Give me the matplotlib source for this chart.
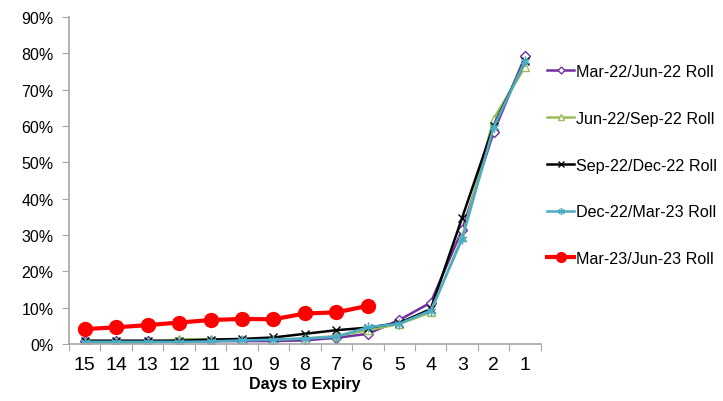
import matplotlib.pyplot as plt
import numpy as np
from matplotlib.ticker import FuncFormatter

# ------------------------------------------------------------
# Data (percent of open interest rolled, by days to expiry)
# ------------------------------------------------------------
days = [15, 14, 13, 12, 11, 10, 9, 8, 7, 6, 5, 4, 3, 2, 1]

mar22_jun22 = [0.8, 0.8, 0.8, 0.8, 0.8, 0.8, 0.8, 1.0, 1.7, 2.8, 6.6, 11.4, 31.5, 58.3, 79.2]
jun22_sep22 = [0.3, 0.3, 0.3, 1.3, 1.3, 1.2, 1.2, 1.5, 2.2, 3.8, 5.5, 8.7, 29.4, 62.0, 76.3]
sep22_dec22 = [0.9, 0.9, 0.9, 0.9, 1.2, 1.4, 1.8, 2.8, 3.8, 4.5, 5.8, 9.6, 34.8, 60.1, 78.0]
dec22_mar23 = [0.6, 0.6, 0.6, 0.6, 0.7, 1.0, 1.2, 1.5, 2.0, 4.6, 5.6, 9.2, 28.9, 59.7, 78.0]
mar23_jun23 = [4.1, 4.6, 5.2, 5.9, 6.6, 6.9, 6.8, 8.4, 8.7, 10.5]

labels = [
    "Mar-22/Jun-22 Roll",
    "Jun-22/Sep-22 Roll",
    "Sep-22/Dec-22 Roll",
    "Dec-22/Mar-23 Roll",
    "Mar-23/Jun-23 Roll",
]

# ------------------------------------------------------------
# Plot
# ------------------------------------------------------------
plt.rcParams["font.family"] = ["Liberation Sans", "DejaVu Sans"]

fig = plt.figure(figsize=(7.23, 4.02), dpi=100)
ax = fig.add_axes([0.0954, 0.1418, 0.6526, 0.8132])

pos = np.arange(len(days)) + 0.5
grey = "#a6a6a6"

ax.plot(pos, np.array(mar22_jun22) / 100, color="#7030a0", lw=1.8, marker="D",
        ms=5, mfc="white", mew=1, label=labels[0])
ax.plot(pos, np.array(jun22_sep22) / 100, color="#9bbb59", lw=1.8, marker="^",
        ms=6, mfc="white", mew=1, label=labels[1])
ax.plot(pos, np.array(sep22_dec22) / 100, color="black", lw=1.8, marker="x",
        ms=6, mew=1, label=labels[2])
ax.plot(pos, np.array(dec22_mar23) / 100, color="#4bacc6", lw=1.8, marker=(6, 2, 0),
        ms=7, mew=1, label=labels[3])
ax.plot(pos[:len(mar23_jun23)], np.array(mar23_jun23) / 100, color="#ff0000", lw=3,
        marker="o", ms=10, label=labels[4])

ax.set_xlim(0, len(days))
ax.set_ylim(0, 0.9)
ax.set_yticks(np.arange(0, 0.91, 0.1))
ax.yaxis.set_major_formatter(FuncFormatter(lambda v, _: f"{v * 100:.0f}%"))

ax.set_xticks(np.arange(0, len(days) + 1))
ax.set_xticklabels([])
ax.set_xticks(pos, minor=True)
ax.set_xticklabels([str(d) for d in days], minor=True,
                   fontfamily=["Liberation Sans Narrow", "Liberation Sans"], fontsize=14)
ax.tick_params(axis="x", which="minor", length=0, pad=9)
ax.tick_params(axis="x", which="major", length=5, color=grey, direction="out")
ax.tick_params(axis="y", length=5, color=grey, labelsize=11.5, pad=6)

for side in ("top", "right"):
    ax.spines[side].set_visible(False)
for side in ("left", "bottom"):
    ax.spines[side].set_color(grey)
    ax.spines[side].set_linewidth(1.2)

ax.set_xlabel("Days to Expiry", fontsize=11.5, fontweight="bold", labelpad=2)

ax.legend(loc="upper left", bbox_to_anchor=(1.0, 0.876), frameon=False, fontsize=11.6,
          handlelength=1.65, handletextpad=0.12, labelspacing=1.97, borderaxespad=0.0,
          markerscale=0.7)

plt.savefig("out.png", dpi=100)
plt.close()
